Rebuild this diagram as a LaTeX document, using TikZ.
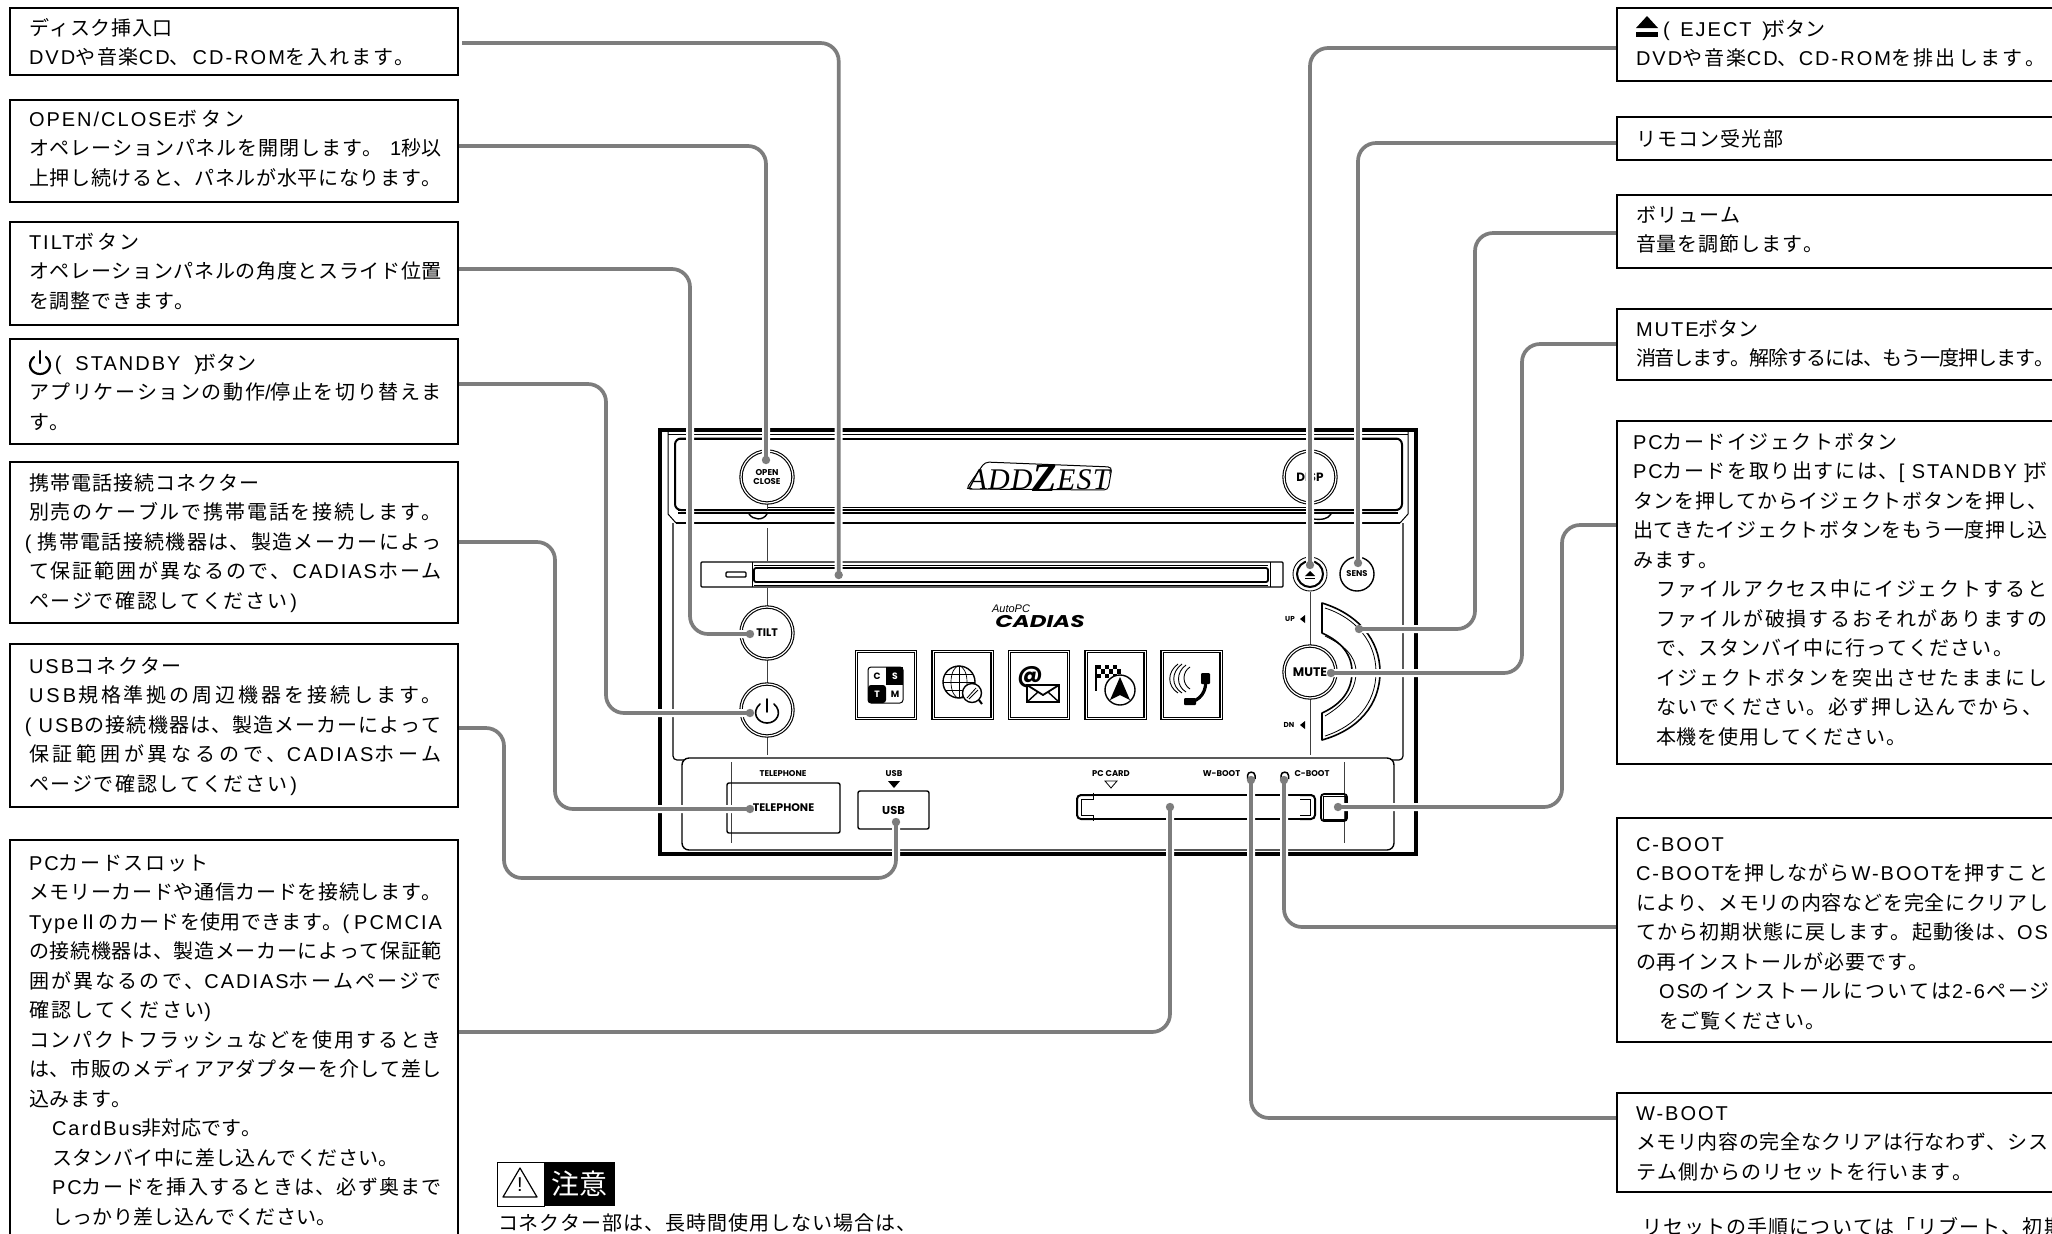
\documentclass[tikz,border=0pt]{standalone}
\usepackage{fontspec}
\usetikzlibrary{shapes.geometric}
\setmainfont{Liberation Sans}
\newfontfamily\devf{Poppins}
\newfontfamily\serfi{Liberation Serif}
\font\jpf="Noto Sans CJK JP" at 10pt
\font\jpbig="Noto Sans CJK JP" at 14pt
\font\latf="Liberation Sans:letterspace=10" at 10pt
\newdimen\px \px=0.5pt
\newcount\cc
\cc="3000 \loop\XeTeXcharclass\cc=1 \advance\cc 1 \ifnum\cc<"3100 \repeat
\cc="4E00 \loop\XeTeXcharclass\cc=1 \advance\cc 1 \ifnum\cc<"A000 \repeat
\cc="FF00 \loop\XeTeXcharclass\cc=1 \advance\cc 1 \ifnum\cc<"FFF0 \repeat
\XeTeXcharclass"2161=1
\XeTeXinterchartoks 0 1={\jpf}
\XeTeXinterchartoks 4095 1={\jpf}
\XeTeXinterchartoks 1 0={\latf}
\XeTeXinterchartoks 4095 0={\latf}
\XeTeXinterchartoks 1 1={\hskip 0pt plus 1fil minus 1fil\relax}
\newcommand\tnat[1]{\hbox{\latf #1}}
\newcommand\tjus[2]{\hbox to #1\px{\latf #2}}
\newcommand\tind[2]{\hbox{\kern 23\px\hbox to #1\px{\latf #2}}}
\newcommand\tinn[1]{\hbox{\kern 23\px\latf #1}}
\newcommand\ibox[5]{\pgfmathsetmacro\bw{(#4-#2)*0.5}\pgfmathsetmacro\bh{(#5-#3)*0.5}%
  \node[infobox,minimum width=\bw pt,minimum height=\bh pt] (#1) at (#2,#3) {};}
\newcommand\itext[4]{\node[anchor=base west,inner sep=0pt,outer sep=0pt] (#1) at (#2,#3+7.4)
  {\vtop{\XeTeXinterchartokenstate=1\relax\baselineskip=14.75pt\lineskiplimit=-100pt\relax #4}};}
\newcommand\dv[1]{\fontsize{#1}{#1}\devf\bfseries}
\tikzset{
  infobox/.style={draw=black,line width=1.25pt,anchor=north west,inner sep=0pt,outer sep=0pt,fill=none},
  conn/.style={draw=gray!98!black,line width=1.85pt,rounded corners=9pt,preaction={draw=white,line width=4pt}},
  dot/.style={circle,fill=gray!98!black,inner sep=0pt,minimum size=4.2pt},
  btn/.style={circle,draw=black,line width=0.55pt,double=white,double distance=0.6pt,minimum size=26pt,inner sep=0pt,align=center},
  iconbox/.style={rectangle,draw=black,line width=0.7pt,double=white,double distance=0.5pt,minimum width=29.5pt,minimum height=33.5pt,inner sep=0pt},
  thinl/.style={draw=black!75,line width=0.45pt},
  devl/.style={draw=black,line width=0.7pt},
  lab/.style={inner sep=0pt,outer sep=0pt}
}
\begin{document}
\begin{tikzpicture}[x=0.5pt,y=-0.5pt]
\useasboundingbox (0,0) rectangle (2052,1233);
\clip (0,0) rectangle (2052,1233);
\fill[white] (0,0) rectangle (2052,1233);

%% ---------- device ----------
\draw[line width=1.8pt] (660,430) rectangle (1416,854);
\draw[line width=0.9pt] (668,434.5) -- (1408,434.5);
\draw[line width=1pt] (680,438.5) -- (1397,438.5);
\draw[line width=0.5pt] (668,431) -- (668,514) -- (676,523);
\draw[line width=0.5pt] (1408,431) -- (1408,514) -- (1400,523);
\draw[line width=1pt,rounded corners=3pt] (767,438.5) -- (675,438.5) -- (675,510) -- (767,510);
\draw[line width=1pt,rounded corners=3pt] (1310,438.5) -- (1402,438.5) -- (1402,510) -- (1310,510);
\draw[line width=0.5pt] (767,507) -- (1310,507);
\draw[line width=0.9pt] (678,513) -- (1398,513);
\draw[line width=1.3pt] (676,523) -- (1400,523);
\draw[line width=0.6pt] (678,510) -- (1398,510);
\draw[line width=0.7pt] (749,514) .. controls (753,520) and (763,521) .. (767,514);
\draw[line width=0.7pt] (1313,519) .. controls (1322,520) and (1328,519) .. (1331,514);
\draw[line width=0.6pt,rounded corners=2pt] (673,523) -- (673,760) -- (684,760);
\draw[line width=0.6pt,rounded corners=2pt] (1403,523) -- (1403,760) -- (1392,760);
\draw[line width=0.7pt,rounded corners=3.5pt] (682,758) rectangle (1394,850);
% thin ticks
\draw[thinl] (767,502) -- (767,510);
\draw[thinl] (767,528) -- (767,561);
\draw[thinl] (767,588) -- (767,607);
\draw[thinl] (767,660) -- (767,684);
\draw[thinl] (767,737) -- (767,755);
\draw[thinl] (1310,592) -- (1310,646);
\draw[thinl] (1310,698) -- (1310,755);
\draw[thinl] (731,762) -- (731,843);
\draw[thinl] (1344,762) -- (1344,843);
% disc slot
\draw[line width=0.55pt,rounded corners=0.5pt] (701,562) rectangle (1283,587);
\draw[line width=0.5pt] (752,562) -- (752,587);
\draw[line width=0.5pt] (1270,562) -- (1270,587);
\draw[line width=0.7pt,rounded corners=0.5pt] (726,572) rectangle (746,577);
\draw[line width=0.9pt,rounded corners=1pt] (754,568) rectangle (1268,582);
\draw[line width=0.45pt] (754,565) -- (1268,565);
\draw[line width=0.45pt] (754,585) -- (1268,585);
% logos
\node[lab] (logoAdd) at (1039,478) {\fontsize{15}{15}\serfi\itshape\addfontfeatures{LetterSpace=4}ADD\raisebox{-1pt}{\bfseries\fontsize{20}{20}\selectfont Z}EST};
\draw[line width=0.5pt,rounded corners=2pt] (966,489) -- (985,462) -- (1112,467) -- (1108,490) -- cycle;
\node[lab] (logoAuto) at (1011,609) {\fontsize{5.5}{5.5}\selectfont\itshape AutoPC};
\node[lab,xscale=1.35,font=\fontsize{8.5}{8.5}\devf\bfseries\itshape] (logoCad) at (1040,621) {CADIAS};
% buttons
\node[btn,font=\dv{4.25}] (btnOpen) at (767,477) {OPEN\\CLOSE};
\node[btn,font=\dv{6}] (btnDisp) at (1310,477) {DISP};
\node[btn,font=\dv{5.5}] (btnTilt) at (767,633) {TILT};
\node[btn] (btnStby) at (767,710) {};
\draw[line width=0.8pt,line cap=round] (767,699) -- (767,712);
\draw[line width=0.8pt,line cap=round] (760,704) .. controls (751,712) and (757,723) .. (767,723) .. controls (777,723) and (783,712) .. (774,704);
\node[btn,font=\dv{6.2}] (btnMute) at (1310,672) {MUTE};
\node[circle,draw=black,line width=0.45pt,minimum size=17pt,inner sep=0pt] (btnEjO) at (1310,574) {};
\node[circle,draw=black,line width=1pt,minimum size=13pt,inner sep=0pt] (btnEj) at (1310,574) {};
\fill (1305,576) -- (1310,571) -- (1315,576) -- cycle;
\fill (1305,577.5) rectangle (1315,579);
\node[circle,draw=black,line width=0.7pt,minimum size=17pt,inner sep=0pt,font=\dv{4.2}] (btnSens) at (1357,574) {SENS};
% volume
\draw[line width=0.8pt,line join=round] (1322,603) .. controls (1358,614) and (1380,640) .. (1380,672) .. controls (1380,705) and (1358,730) .. (1322,740) -- (1322,713) .. controls (1342,704) and (1352,690) .. (1352,672) .. controls (1352,655) and (1342,642) .. (1322,633) -- cycle;
\draw[line width=0.4pt] (1325,608) .. controls (1356,618) and (1376,642) .. (1376,672) .. controls (1376,703) and (1356,726) .. (1325,736);
\draw[line width=0.4pt] (1325,636) .. controls (1344,645) and (1356,656) .. (1356,672) .. controls (1356,690) and (1345,704) .. (1325,716);
\node[lab,font=\dv{3.6}] (lUp) at (1290,619) {UP};
\fill (1300,619) -- (1305,615) -- (1305,623) -- cycle;
\node[lab,font=\dv{3.6}] (lDn) at (1289,725) {DN};
\fill (1300,725) -- (1305,721) -- (1305,729) -- cycle;
% icons
\node[iconbox] (icA) at (886,685) {};
\node[iconbox] (icB) at (962.5,685) {};
\node[iconbox] (icC) at (1039,685) {};
\node[iconbox] (icD) at (1115.5,685) {};
\node[iconbox] (icE) at (1191.5,685) {};
% CSTM
\draw[line width=0.5pt,rounded corners=1.5pt] (868,667) rectangle (903,703);
\fill (886,667) rectangle (903,685);
\fill[rounded corners=1.5pt] (868,685) -- (886,685) -- (886,703) -- (868,703) -- cycle;
\node[lab,font=\dv{4.6}] (icCs1) at (877,676) {C};
\node[lab,text=white,font=\dv{4.6}] (icCs2) at (895,676) {S};
\node[lab,text=white,font=\dv{4.6}] (icCs3) at (877,694) {T};
\node[lab,font=\dv{4.6}] (icCs4) at (895,694) {M};
% globe
\draw[line width=0.7pt] (959,682) circle (16);
\draw[line width=0.35pt] (959,682) ellipse (8 and 16);
\draw[line width=0.35pt] (959,666) -- (959,698) (943,682) -- (975,682) (945,674) -- (973,674) (945,690) -- (973,690);
\draw[line width=0.7pt,fill=white] (972,693) circle (9.5);
\draw[line width=1pt] (979,700) -- (982,704);
\draw[line width=0.4pt] (967,698) -- (976,688) (969,699) -- (978,690);
% mail
\node[lab,font=\dv{12}] (icAt) at (1030,677) {@};
\draw[line width=0.9pt,fill=white] (1027,685) rectangle (1059,702);
\draw[line width=0.9pt,line join=round] (1027,685) -- (1043,695) -- (1059,685);
\draw[line width=0.7pt] (1027,702) -- (1038,692) (1059,702) -- (1048,692);
% flag
\draw[line width=1pt] (1096,665) -- (1096,691);
\foreach \ix in {0,1,2,3,4,5} \foreach \iy in {0,1,2} {
  \pgfmathparse{int(mod(\ix+\iy,2))}
  \ifnum\pgfmathresult=0 \fill (1097+\ix*4,665+\iy*4.3) rectangle +(4,4.3); \fi }
\draw[line width=0.7pt,fill=white] (1120,690) circle (15);
\fill (1120,677) -- (1130,700) -- (1120,695) -- (1110,700) -- cycle;
% phone
\draw[line width=0.45pt] (1190,667) .. controls (1182,672) and (1182,684) .. (1190,689);
\draw[line width=0.45pt] (1186,665) .. controls (1176,672) and (1176,686) .. (1186,692);
\draw[line width=0.45pt] (1182,664) .. controls (1171,672) and (1171,686) .. (1182,693);
\draw[line width=0.45pt] (1178,664) .. controls (1167,672) and (1167,686) .. (1178,693);
\draw[line width=1.6pt] (1205,678) .. controls (1208,690) and (1200,702) .. (1188,702);
\fill[rounded corners=0.5pt] (1201,673) rectangle (1210,684);
\fill[rounded corners=0.5pt] (1184,698) rectangle (1196,705);
% lower panel
\node[lab,font=\dv{4.2}] (lTel) at (783,774) {TELEPHONE};
\node[draw=black,line width=0.7pt,rounded corners=1pt,minimum width=56.5pt,minimum height=25pt,inner sep=0pt,outer sep=0pt,font=\dv{5.5}] (btnTel) at (783.5,808) {TELEPHONE};
\node[lab,font=\dv{4.2}] (lUsb) at (894,774) {USB};
\fill (888,781) -- (900,781) -- (894,788) -- cycle;
\node[draw=black,line width=0.7pt,rounded corners=1pt,minimum width=35.5pt,minimum height=19pt,inner sep=0pt,outer sep=0pt,font=\dv{5.7}] (btnUsb) at (893.5,810) {USB};
\node[lab,font=\dv{4.2}] (lPc) at (1111,774) {PC CARD};
\draw[line width=0.4pt] (1105,781) -- (1117,781) -- (1111,788) -- cycle;
\draw[line width=1pt,rounded corners=2pt] (1093,795) -- (1077,795) -- (1077,819) -- (1093,819);
\draw[line width=0.5pt] (1093,792.5) -- (1093,799) -- (1081,799) -- (1081,815) -- (1093,815) -- (1093,821);
\draw[line width=1pt,rounded corners=2pt] (1300,795) -- (1315,795) -- (1315,819) -- (1300,819);
\draw[line width=0.5pt] (1300,799) -- (1310,799) -- (1310,815) -- (1300,815);
\draw[line width=0.8pt] (1093,795) -- (1300,795) (1093,819) -- (1300,819);
\node[draw=black,line width=0.9pt,rounded corners=1.5pt,minimum width=13pt,minimum height=13.5pt,inner sep=0pt,outer sep=0pt] (btnPcE) at (1334,807.5) {};
\node[draw=black,line width=0.35pt,minimum width=11pt,minimum height=11.5pt,inner sep=0pt,outer sep=0pt] (btnPcEi) at (1334,807.5) {};
\node[lab,font=\dv{4.2}] (lWb) at (1221.5,774) {W-BOOT};
\node[lab,font=\dv{4.2}] (lCb) at (1312,774) {C-BOOT};
\draw[line width=0.75pt] (1247.5,779) -- (1247.5,775.5) .. controls (1247.5,771) and (1255,771) .. (1255,775.5) -- (1255,779);
\draw[line width=0.75pt] (1281,779) -- (1281,775.5) .. controls (1281,771) and (1288.5,771) .. (1288.5,775.5) -- (1288.5,779);

%% ---------- connector ends ----------
\coordinate (pDisc) at (462,43);   \coordinate (dDisc) at (838.7,575);
\coordinate (pOpen) at (458,146);  \coordinate (dOpen) at (766,460);
\coordinate (pTilt) at (458,269);  \coordinate (dTilt) at (750,634);
\coordinate (pStby) at (458,384);  \coordinate (dStby) at (750,713);
\coordinate (pTel)  at (458,542);  \coordinate (dTel)  at (750,809);
\coordinate (pUsb)  at (458,728);  \coordinate (dUsb)  at (896,822);
\coordinate (pPcs)  at (458,1032); \coordinate (dPcs)  at (1170,807);
\coordinate (pEj)   at (1617,48);  \coordinate (dEj)   at (1310,565);
\coordinate (pRem)  at (1617,143); \coordinate (dRem)  at (1358,563);
\coordinate (pVol)  at (1617,233); \coordinate (dVol)  at (1359,629);
\coordinate (pMute) at (1617,344); \coordinate (dMute) at (1331,673);
\coordinate (pPce)  at (1617,525); \coordinate (dPce)  at (1338,807);
\coordinate (pCb)   at (1617,927); \coordinate (dCb)   at (1284,780);
\coordinate (pWb)   at (1617,1118);\coordinate (dWb)   at (1251,780);

\draw[conn] (pDisc) -| (dDisc);
\draw[conn] (pOpen) -| (dOpen);
\draw[conn] (pTilt) -| (690,634) -- (dTilt);
\draw[conn] (pStby) -| (606,713) -- (dStby);
\draw[conn] (pTel) -| (555,809) -- (dTel);
\draw[conn] (pUsb) -| (504,878) -| (dUsb);
\draw[conn] (pPcs) -| (dPcs);
\draw[conn] (pEj) -| (dEj);
\draw[conn] (pRem) -| (dRem);
\draw[conn] (pVol) -| (1475,629) -- (dVol);
\draw[conn] (pMute) -| (1522,673) -- (dMute);
\draw[conn] (pPce) -| (1562,807) -- (dPce);
\draw[conn] (pCb) -| (dCb);
\draw[conn] (pWb) -| (dWb);
\foreach \d in {dDisc,dOpen,dTilt,dStby,dTel,dUsb,dPcs,dEj,dRem,dVol,dMute,dPce,dCb,dWb}
  \node[dot] (n\d) at (\d) {};

%% ---------- left boxes ----------
\ibox{bDisc}{10}{8}{458}{75}
\itext{tDisc}{29}{28}{\tjus{144}{ディスク挿入口}\tjus{386}{DVDや音楽CD、\kern3\px CD-ROM\kern1\px を入れます。}}
\ibox{bOpen}{10}{100}{458}{202}
\itext{tOpen}{29}{119}{\tjus{216}{OPEN/CLOSEボタン}\tjus{413}{オペレーションパネルを開閉します。\kern7\px 1秒以}\tjus{413}{上押し続けると、パネルが水平になります。}}
\ibox{bTilt}{10}{222}{458}{325}
\itext{tTilt}{29}{242}{\tjus{111}{TILTボタン}\tjus{413}{オペレーションパネルの角度とスライド位置}\tjus{166}{を調整できます。}}
\ibox{bStby}{10}{339}{458}{444}
\itext{tStby}{29}{363}{\tnat{\kern26\px\hbox to 142\px{\latf(\hfil STANDBY\hfil)\kern-4\px}ボタン}\tjus{413}{アプリケーションの動作/停止を切り替えま}\tnat{す。}}
\draw[line width=1.1pt,line cap=round] (40,351) -- (40,363);
\draw[line width=1.1pt,line cap=round] (34,357) .. controls (26,364) and (31,374) .. (40,374) .. controls (49,374) and (54,364) .. (46,357);
\ibox{bTel}{10}{462}{458}{623}
\itext{tTel}{29}{483}{\tjus{231}{携帯電話接続コネクター}\tjus{413}{別売のケーブルで携帯電話を接続します。}\hbox to 413\px{\latf\kern-4\px(\kern6\px 携帯電話接続機器は、製造メーカーによっ}\tjus{413}{て保証範囲が異なるので、\kern2\px CADIAS\kern1\px ホーム}\tjus{268}{ページで確認してください\kern3\px )}}
\ibox{bUsb}{10}{644}{458}{807}
\itext{tUsb}{29}{666}{\tjus{153}{USBコネクター}\tjus{413}{U\kern3\px S\kern3\px B\kern2\px 規格準拠の周辺機器を接続します。}\hbox to 413\px{\latf\kern-4\px(\kern7\px USB\kern1\px の接続機器は、製造メーカーによって}\tjus{413}{保証範囲が異なるので、C\kern2.4\px A\kern2.4\px D\kern2.4\px I\kern2.4\px A\kern2.4\px S\kern1\px ホーム}\tjus{268}{ページで確認してください\kern3\px )}}
\ibox{bPcs}{10}{840}{458}{1300}
\itext{tPcs}{29}{863}{\tjus{180}{PCカードスロット}\tjus{413}{メモリーカードや通信カードを接続します。}\tjus{413}{TypeⅡのカードを使用できます。(\kern5\px PCMCIA}\tjus{413}{の接続機器は、製造メーカーによって保証範}\tjus{413}{囲が異なるので、CADIASホームページで}\tjus{182}{確認してください)}\tjus{413}{コンパクトフラッシュなどを使用するとき}\tjus{413}{は、市販のメディアアダプターを介して差し}\tjus{103}{込みます。}\tinn{CardBus非対応です。}\tind{347}{スタンバイ中に差し込んでください。}\tind{390}{PCカードを挿入するときは、必ず奥まで}\tind{285}{しっかり差し込んでください。}}

%% ---------- right boxes ----------
\ibox{bEj}{1617}{8}{2090}{81}
\itext{tEj}{1636}{29}{\tnat{\kern27\px\hbox to 102\px{\latf(\hfil EJECT\hfil)\kern-4\px}ボタン}\tjus{409}{DVDや音楽CD、\kern1\px CD-ROMを排出します。}}
\fill (1636,28) -- (1647,16) -- (1658,28) -- cycle;
\fill (1636,32) rectangle (1658,37);
\ibox{bRem}{1617}{117}{2090}{160}
\itext{tRem}{1636}{139}{\tjus{147}{リモコン受光部}}
\ibox{bVol}{1617}{195}{2090}{268}
\itext{tVol}{1636}{215}{\tjus{104}{ボリューム}\tjus{187}{音量を調節します。}}
\ibox{bMute}{1617}{309}{2090}{380}
\itext{tMute}{1636}{329}{\tnat{MUTEボタン}\tjus{418}{消音します。解除するには、もう一度押します。}}
\ibox{bPce}{1617}{421}{2090}{764}
\itext{tPce}{1633}{442}{\tjus{265}{PCカードイジェクトボタン}\tjus{414}{PCカードを取り出すには、[ STANDBY ]\kern-3\px ボ}\tjus{414}{タンを押してからイジェクトボタンを押し、}\tjus{414}{出てきたイジェクトボタンをもう一度押し込}\tjus{85}{みます。}\tind{391}{ファイルアクセス中にイジェクトすると}\tind{391}{ファイルが破損するおそれがありますの}\tind{357}{で、スタンバイ中に行ってください。}\tind{391}{イジェクトボタンを突出させたままにし}\tind{386}{ないでください。必ず押し込んでから、}\tind{250}{本機を使用してください。}}
\ibox{bCb}{1617}{818}{2090}{1042}
\itext{tCb}{1636}{844}{\tnat{C-BOOT}\tjus{412}{C-BOOTを押しながら\kern2\px W-BOOTを押すこと}\tjus{412}{により、メモリの内容などを完全にクリアし}\tjus{412}{てから初期状態に戻します。起動後は、OS}\tjus{292}{の再インストールが必要です。}\tind{391}{OSのインストールについては\kern1\px 2-6\kern1\px ページ}\tind{166}{をご覧ください。}}
\ibox{bWb}{1617}{1093}{2090}{1192}
\itext{tWb}{1636}{1113}{\tnat{W-BOOT}\tjus{412}{メモリ内容の完全なクリアは行なわず、シス}\tjus{336}{テム側からのリセットを行います。}}
\itext{tReset}{1642}{1227}{\tjus{422}{リセットの手順については「\kern2\px リブート、初期}}

%% ---------- caution ----------
\node[draw=black,line width=0.5pt,minimum width=23.5pt,minimum height=22pt,inner sep=0pt,outer sep=0pt,anchor=north west] (warnL) at (497,1162) {};
\node[fill=black,minimum width=35.5pt,minimum height=22pt,inner sep=0pt,outer sep=0pt,anchor=north west,text=white] (warnR) at (544,1162) {\jpbig 注意};
\draw[line width=0.6pt,line join=round] (520,1168) -- (503,1197) -- (537,1197) -- cycle;
\node[lab] (warnMark) at (520,1185) {\fontsize{10}{10}\selectfont !};
\itext{tCaut}{498}{1223}{\tjus{418}{コネクター部は、長時間使用しない場合は、}}
\end{tikzpicture}
\end{document}
